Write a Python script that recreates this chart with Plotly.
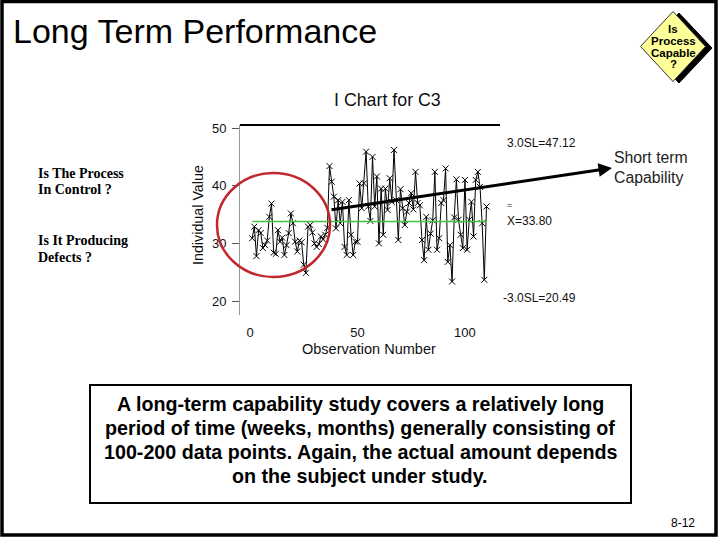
import plotly.graph_objects as go

# ---------------- data ----------------
obs = list(range(1, 111))
values = [
    30.9, 32.9, 27.8, 32.3, 31.8, 29.2, 29.7, 30.5, 34.6, 36.9,
    28.4, 28.2, 32.3, 30.3, 31.0, 28.0, 29.7, 31.8, 35.2, 33.5,
    30.3, 28.6, 30.5, 30.2, 26.3, 24.9, 32.9, 33.2, 31.9, 30.0,
    29.4, 29.9, 31.2, 30.7, 31.5, 32.7,
    43.4, 40.7, 38.1, 32.6, 37.5, 33.5, 37.2, 29.4, 28.0, 37.5,
    31.5, 28.0, 30.3, 30.3, 40.4, 36.1, 40.4, 45.9, 36.4, 33.9,
    45.0, 36.4, 41.6, 30.0, 39.5, 31.5, 39.5, 35.8, 41.3, 37.2,
    46.2, 37.5, 30.6, 39.4, 36.1, 33.2, 35.5, 37.0, 38.7, 35.9,
    42.4, 37.0, 36.6, 30.6, 27.1, 34.6, 28.9, 31.7, 34.0, 42.4,
    28.9, 30.9, 37.0, 37.5, 43.0, 26.8, 29.7, 23.4, 34.5, 41.1,
    34.1, 31.5, 29.2, 41.0, 28.9, 34.1, 37.2, 31.2, 41.0, 42.4,
    39.8, 33.5, 23.7, 36.4,
]
center_value = 33.80
ucl_value = 47.12
lcl_value = 20.49
x_tick_values = [0, 50, 100]
y_tick_values = [20, 30, 40, 50]

# ---------------- layout geometry ----------------
W, H = 720, 540
L, R, T, B = 240, 220, 125, 225
PW, PH = W - L - R, H - T - B
FONT = "Liberation Sans, Arial, sans-serif"
SERIF = "Liberation Serif, Times New Roman, serif"


def xp(px):
    return (px - L) / PW


def yp(py):
    return (H - B - py) / PH


fig = go.Figure()
fig.add_trace(go.Scatter(
    x=obs, y=values, mode="lines+markers",
    line=dict(color="black", width=1),
    marker=dict(symbol="x-thin", size=6, line=dict(color="black", width=1), color="black"),
    showlegend=False, hoverinfo="skip",
))
fig.add_trace(go.Scatter(
    x=[obs[0], obs[-1]], y=[center_value, center_value], mode="lines",
    line=dict(color="#44c244", width=1.5), showlegend=False, hoverinfo="skip",
))

shapes = []
# slide border
shapes.append(dict(type="rect", xref="paper", yref="paper",
                   x0=xp(2), x1=xp(716), y0=yp(1.5), y1=yp(535),
                   line=dict(color="black", width=3.5), layer="below"))
# top frame line of chart
shapes.append(dict(type="line", xref="x domain", yref="y domain",
                   x0=0, x1=1, y0=1, y1=1, line=dict(color="black", width=2)))
# red ellipse
shapes.append(dict(type="circle", xref="paper", yref="paper",
                   x0=xp(217), x1=xp(330), y0=yp(277), y1=yp(173),
                   line=dict(color="#c0282d", width=2.5)))
# text box
shapes.append(dict(type="rect", xref="paper", yref="paper",
                   x0=xp(90), x1=xp(631), y0=yp(503), y1=yp(385),
                   line=dict(color="black", width=2), fillcolor="white"))


def diamond(cx, cy, hw, hh):
    pts = [(cx, cy - hh), (cx + hw, cy), (cx, cy + hh), (cx - hw, cy)]
    return "M " + " L ".join(f"{xp(a):.5f},{yp(b):.5f}" for a, b in pts) + " Z"


shapes.append(dict(type="path", xref="paper", yref="paper",
                   path=diamond(679, 48, 33, 35), fillcolor="black",
                   line=dict(color="black", width=1)))
shapes.append(dict(type="path", xref="paper", yref="paper",
                   path=diamond(673, 46.5, 32.5, 35), fillcolor="#ffff99",
                   line=dict(color="#333", width=1)))

ann = []


def text(px, py, s, size, xanchor="center", yanchor="middle", font=FONT, color="black", bold=False, angle=0):
    if bold:
        s = f"<b>{s}</b>"
    ann.append(dict(xref="paper", yref="paper", x=xp(px), y=yp(py), text=s,
                    showarrow=False, xanchor=xanchor, yanchor=yanchor, textangle=angle,
                    font=dict(family=font, size=size, color=color)))


text(11, 31, "Long Term Performance", 34, xanchor="left")
text(387, 100, "I Chart for C3", 17.8, color="#111")
text(198, 215, "Individual Value", 14.3, angle=-90, color="#111")
text(369, 349, "Observation Number", 14.5, color="#111")

text(505, 143, f"3.0SL={ucl_value:.2f}", 12, xanchor="left", color="#111")
text(505, 205, "=", 9, xanchor="left", color="#111")
text(505, 221, f"X={center_value:.2f}", 12, xanchor="left", color="#111")
text(501, 298, f"-3.0SL={lcl_value:.2f}", 12, xanchor="left", color="#111")

text(612, 157, "Short term", 15.8, xanchor="left", color="#222")
text(612, 177, "Capability", 15.8, xanchor="left", color="#222")

text(36, 173, "Is The Process", 14, xanchor="left", font=SERIF, bold=True)
text(36, 189, "In Control ?", 14, xanchor="left", font=SERIF, bold=True)
text(36, 240, "Is It Producing", 14, xanchor="left", font=SERIF, bold=True)
text(36, 257, "Defects ?", 14, xanchor="left", font=SERIF, bold=True)

for s, y in [("Is", 29), ("Process", 41), ("Capable", 53), ("?", 64)]:
    text(673, y, s, 11.5, bold=True)

box_lines = [
    "A long-term capability study covers a relatively long",
    "period of time (weeks, months) generally consisting of",
    "100-200 data points. Again, the actual amount depends",
    "on the subject under study.",
]
for i, s in enumerate(box_lines):
    text(360, 404 + 24 * i, s, 19.7, bold=True)

text(683, 523, "8-12", 12)

# trend arrow towards "Short term Capability"
ann.append(dict(xref="paper", yref="paper", x=xp(612), y=yp(168), ax=330 - 612, ay=210 - 168,
                axref="pixel", ayref="pixel", text="", showarrow=True,
                arrowhead=2, arrowsize=0.9, arrowwidth=3, arrowcolor="black"))

fig.update_layout(
    width=W, height=H, autosize=False,
    margin=dict(l=L, r=R, t=T, b=B, pad=0),
    paper_bgcolor="white", plot_bgcolor="white",
    shapes=shapes, annotations=ann, showlegend=False,
    xaxis=dict(range=[-4.65, 116.3], tickvals=x_tick_values, ticks="", showline=False,
               showgrid=False, zeroline=False, ticklabelstandoff=8,
               tickfont=dict(family=FONT, size=13, color="#111")),
    yaxis=dict(range=[17.6, 50.52], tickvals=y_tick_values, ticks="outside", ticklen=7,
               tickcolor="#555", showline=True, linecolor="#999", linewidth=1,
               showgrid=False, zeroline=False, ticklabelstandoff=3,
               tickfont=dict(family=FONT, size=13, color="#111")),
)

fig.write_html("out.html", config={"displayModeBar": False},
               post_script="document.body.style.margin='0px';document.body.style.overflow='hidden';")
